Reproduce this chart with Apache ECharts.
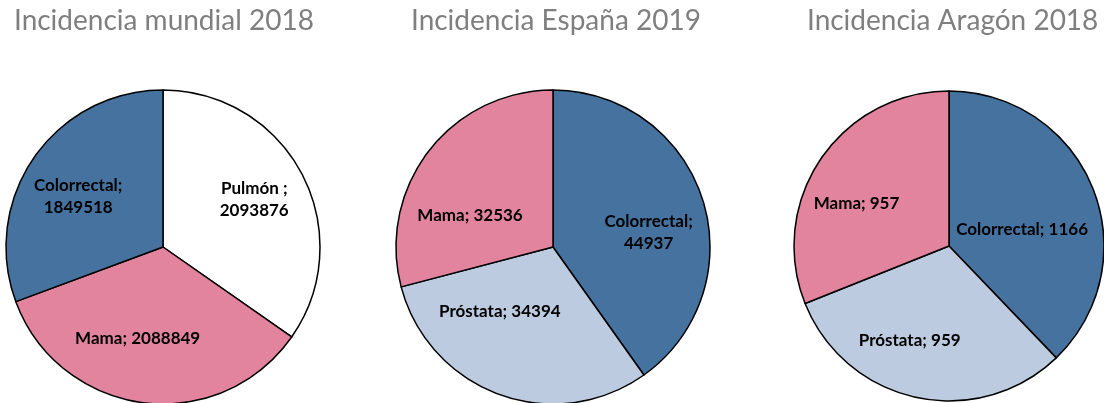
<!DOCTYPE html>
<html>
<head>
<meta charset="utf-8">
<script src="https://cdn.jsdelivr.net/npm/echarts@6/dist/echarts.min.js"></script>
<style>
  html, body { margin: 0; padding: 0; background: #ffffff; }
  #chart { width: 1104px; height: 403px; }
</style>
</head>
<body>
<div id="chart"></div>
<script>
// Cancer incidence: world 2018, Spain 2019, Aragón 2018
const titles = ['Incidencia mundial 2018', 'Incidencia España 2019', 'Incidencia Aragón 2018'];

// slices listed clockwise from 12 o'clock
const mundialNames = ['Pulmón', 'Mama', 'Colorrectal'];
const mundialValues = [2093876, 2088849, 1849518];
const mundialSeps = [' ;\n', '; ', ';\n'];

const espanaNames = ['Colorrectal', 'Próstata', 'Mama'];
const espanaValues = [44937, 34394, 32536];
const espanaSeps = [';\n', '; ', '; '];

const aragonNames = ['Colorrectal', 'Próstata', 'Mama'];
const aragonValues = [1166, 959, 957];
const aragonSeps = ['; ', '; ', '; '];

const sliceColors = {
  'Pulmón': '#ffffff',
  'Mama': '#e3849f',
  'Colorrectal': '#45729f',
  'Próstata': '#bccbe0'
};

const chart = echarts.init(document.getElementById('chart'), null, { renderer: 'canvas' });

// layout of each pie; nudge = extra label shift in px, per slice
const pies = [
  { names: mundialNames, values: mundialValues, seps: mundialSeps, center: [163, 247], r: 157,
    nudge: [[5, -3], [-13, -5], [-5, 5]] },
  { names: espanaNames, values: espanaValues, seps: espanaSeps, center: [553, 247], r: 157,
    nudge: [[3, 15], [-20, -27], [-6, 28]] },
  { names: aragonNames, values: aragonValues, seps: aragonSeps, center: [949, 246], r: 155,
    nudge: [[-16, 19], [-19, 1], [-13, 11]] }
];

// push labels a little further out than the default half-radius
const LABEL_RADIUS = 0.6;

function buildSeries(p) {
  const total = p.values.reduce((a, b) => a + b, 0);
  let acc = 0;
  const data = p.names.map((name, i) => {
    const mid = (acc + p.values[i] / 2) / total * Math.PI * 2;
    acc += p.values[i];
    const extra = (LABEL_RADIUS - 0.5) * p.r;
    return {
      name: name,
      value: p.values[i],
      itemStyle: { color: sliceColors[name] },
      label: {
        offset: [extra * Math.sin(mid) + p.nudge[i][0], -extra * Math.cos(mid) + p.nudge[i][1]],
        formatter: name + p.seps[i] + p.values[i]
      }
    };
  });
  return {
    type: 'pie',
    center: p.center,
    radius: p.r,
    startAngle: 90,
    clockwise: true,
    animation: false,
    silent: true,
    itemStyle: { borderColor: '#000000', borderWidth: 1.5 },
    label: {
      show: true,
      position: 'inside',
      color: '#000000',
      fontFamily: 'Lato',
      fontWeight: 'bold',
      fontSize: 17,
      lineHeight: 22,
      align: 'center'
    },
    labelLine: { show: false },
    data: data
  };
}

const titleLeft = [9, 406, 802];

chart.setOption({
  backgroundColor: '#ffffff',
  title: titles.map((t, i) => ({
    text: t,
    left: titleLeft[i],
    top: 2,
    textStyle: { fontFamily: 'Lato', fontWeight: 'normal', fontSize: 28, color: '#7f7f7f' }
  })),
  series: pies.map(buildSeries)
});
</script>
</body>
</html>
